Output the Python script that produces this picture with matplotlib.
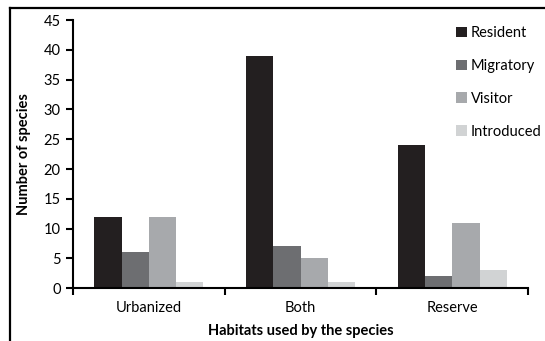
import matplotlib
import matplotlib.pyplot as plt
import numpy as np
from matplotlib.lines import Line2D

matplotlib.use("Agg")
plt.rcParams['font.family'] = ['Lato', 'DejaVu Sans']

# data
habitats = ["Urbanized", "Both", "Reserve"]
statuses = ["Resident", "Migratory", "Visitor", "Introduced"]
resident = [12, 39, 24]
migratory = [6, 7, 2]
visitor = [12, 5, 11]
introduced = [1, 1, 3]

series = [resident, migratory, visitor, introduced]
colors = ["#231f20", "#6d6e71", "#a7a9ac", "#d1d3d4"]

fig = plt.figure(figsize=(5.45, 3.41), dpi=100)
ax = fig.add_axes([0.134, 0.155, 0.835, 0.786])

x = np.arange(len(habitats))
bar_w = 0.18
for k, (vals, col) in enumerate(zip(series, colors)):
    ax.bar(x + (k - 1.5) * bar_w, vals, width=bar_w, color=col, label=statuses[k])

ax.set_xlim(-0.5, len(habitats) - 0.5)
ax.set_ylim(0, 45)
ax.set_yticks(range(0, 46, 5))
ax.set_xticks(x)
ax.set_xticklabels(habitats, fontsize=10.5)
ax.tick_params(axis='x', length=0, pad=9)
ax.set_xticks(np.arange(len(habitats) + 1) - 0.5, minor=True)
ax.tick_params(axis='x', which='minor', length=5, width=1.5, direction='out')
ax.tick_params(axis='y', labelsize=10.5, length=5, width=1.5, direction='out', pad=4)

for s in ['top', 'right']:
    ax.spines[s].set_visible(False)
ax.spines['left'].set_linewidth(1.5)
ax.spines['bottom'].set_linewidth(1.5)

ax.set_xlabel("Habitats used by the species", fontsize=10.5, fontweight='bold', labelpad=7)
ax.set_ylabel("Number of species", fontsize=10.5, fontweight='bold', labelpad=9)

fig.legend(*ax.get_legend_handles_labels(), loc='upper left',
           bbox_to_anchor=(456 / 545, 1 - 26 / 341), frameon=False,
           fontsize=10.5, handlelength=0.75, handleheight=0.75, handletextpad=0.25,
           labelspacing=1.3, borderpad=0, borderaxespad=0)

# outer frame (top and left visible)
fig.add_artist(Line2D([10 / 545, 1], [1 - 8 / 341, 1 - 8 / 341], color='black', lw=1.6))
fig.add_artist(Line2D([10 / 545, 10 / 545], [0, 1 - 8 / 341], color='black', lw=1.6))

fig.savefig("out.png", dpi=100)
